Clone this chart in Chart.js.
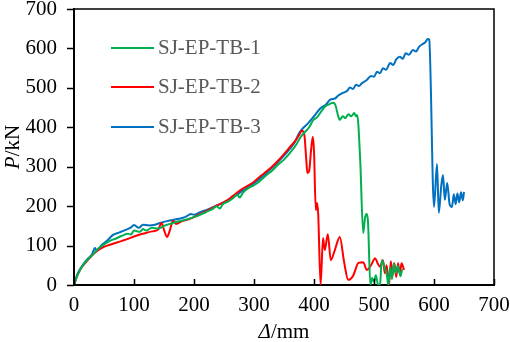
<!DOCTYPE html>
<html>
<head>
<meta charset="utf-8">
<script src="https://cdn.jsdelivr.net/npm/chart.js@4"></script>
<style>
  html, body { margin: 0; padding: 0; background: #fff; }
  canvas { display: block; }
</style>
</head>
<body>
<canvas id="loadChart" width="510" height="342"></canvas>
<script>
// series names
const seriesNames = ['SJ-EP-TB-1', 'SJ-EP-TB-2', 'SJ-EP-TB-3'];
const seriesColors = ['#00B050', '#FF0000', '#0070C0'];

// SJ-EP-TB-1 (green)
const tb1Delta = [0, 5, 10, 20, 30, 40, 50, 60, 70, 80, 90, 95, 100, 110, 115, 120, 130, 140, 150, 160, 170, 180, 190, 200,
  210, 220, 230, 238, 243, 248, 255, 265, 272, 276, 282, 290, 300, 310, 320, 330, 340, 350, 360, 370, 378, 385, 392, 399,
  405, 412, 418, 425, 432, 436, 440, 443, 448, 452, 457, 462, 467, 470, 472, 477, 482, 485, 488, 490, 494, 497, 500, 503,
  507, 510, 513, 518, 521, 524, 527, 530, 533, 536, 540, 544, 547];
const tb1P = [0, 22, 38, 60, 75, 92, 103, 112, 118, 125, 130, 128, 138, 135, 142, 138, 145, 143, 150, 155, 160, 163, 167, 172,
  178, 185, 192, 200, 194, 205, 210, 220, 229, 222, 235, 245, 253, 264, 278, 290, 305, 318, 335, 355, 376, 388, 400, 419,
  425, 440, 452, 458, 462, 455, 430, 419, 428, 423, 433, 428, 436, 428, 431, 317, 132, 170, 180, 160, 0, 18, 8, 25,
  0, 2, 63, 43, 30, 0, 45, 15, 55, 30, 48, 22, 40];

// SJ-EP-TB-2 (red)
const tb2Delta = [0, 5, 10, 20, 30, 40, 50, 60, 70, 80, 90, 100, 110, 120, 130, 140, 146, 150, 155, 160, 165, 170, 180, 190,
  200, 210, 220, 230, 240, 250, 260, 270, 280, 290, 300, 310, 320, 330, 340, 350, 360, 370, 375, 380, 384, 387, 389, 392,
  395, 398, 400, 403, 405, 407, 411, 415, 418, 423, 428, 435, 443, 450, 457, 465, 474, 482, 488, 495, 502, 506, 510, 515,
  518, 521, 525, 528, 531, 534, 537, 540, 543, 546, 550];
const tb2P = [0, 22, 38, 58, 75, 88, 97, 102, 107, 112, 117, 123, 128, 132, 136, 140, 157, 140, 122, 140, 163, 155, 162, 166,
  172, 180, 187, 195, 203, 210, 220, 232, 243, 252, 262, 275, 287, 300, 315, 332, 350, 368, 380, 391, 380, 320, 284, 290,
  340, 376, 340, 190, 208, 180, 0, 119, 89, 129, 63, 90, 122, 60, 13, 23, 56, 58, 38, 50, 68, 55, 46, 63,
  30, 50, 0, 60, 25, 55, 20, 55, 30, 55, 38];

// SJ-EP-TB-3 (blue)
const tb3Delta = [0, 5, 10, 20, 30, 35, 38, 45, 55, 65, 75, 85, 95, 100, 108, 115, 125, 135, 145, 155, 165, 175, 185, 195,
  200, 210, 220, 230, 240, 250, 260, 270, 280, 290, 300, 310, 320, 330, 340, 350, 360, 368, 375, 380, 390, 400, 410, 420,
  427, 435, 440, 448, 455, 460, 465, 470, 475, 480, 488, 495, 500, 505, 510, 515, 520, 527, 532, 537, 543, 548, 553, 558,
  565, 570, 575, 580, 585, 590, 592, 600, 605, 608, 612, 615, 618, 622, 626, 630, 633, 636, 639, 642, 645, 648, 650];
const tb3P = [0, 25, 40, 62, 78, 94, 86, 100, 112, 127, 133, 139, 146, 152, 145, 153, 151, 153, 158, 162, 165, 168, 172, 180,
  178, 185, 190, 196, 203, 210, 218, 227, 238, 248, 258, 270, 283, 297, 312, 328, 346, 362, 385, 395, 410, 428, 447, 458,
  470, 473, 480, 487, 492, 501, 497, 508, 505, 512, 520, 530, 528, 541, 537, 550, 546, 563, 558, 572, 579, 574, 588, 584,
  596, 592, 604, 610, 615, 624, 622, 198, 307, 183, 250, 279, 216, 259, 205, 198, 230, 205, 232, 210, 235, 215, 236];

// axis ticks
const deltaTicks = [0, 100, 200, 300, 400, 500, 600, 700];
const loadTicks = [0, 100, 200, 300, 400, 500, 600, 700];

const serif = "'Liberation Serif', 'Times New Roman', serif";
const fontSize = 21;

function toPoints(xs, ys) {
  return xs.map((x, i) => ({ x: x, y: ys[i] }));
}

// box round the plot, tick marks, legend and mixed-style axis titles
const decorations = {
  id: 'decorations',
  afterDraw(chart) {
    const ctx = chart.ctx;
    const area = chart.chartArea;
    const xs = chart.scales.x;
    const ys = chart.scales.y;
    ctx.save();
    ctx.strokeStyle = '#000';
    ctx.lineWidth = 1.5;
    ctx.beginPath();
    ctx.moveTo(area.left, area.top);
    ctx.lineTo(area.right, area.top);
    ctx.lineTo(area.right, area.bottom);
    ctx.stroke();

    // x ticks point into the plot, y ticks point out
    ctx.beginPath();
    deltaTicks.forEach(v => {
      const px = Math.round(xs.getPixelForValue(v)) + 0.5;
      ctx.moveTo(px, area.bottom);
      ctx.lineTo(px, area.bottom - 6);
    });
    loadTicks.forEach(v => {
      const py = Math.round(ys.getPixelForValue(v)) + 0.5;
      ctx.moveTo(area.left, py);
      ctx.lineTo(area.left - 7, py);
    });
    ctx.stroke();

    // legend
    ctx.font = fontSize + 'px ' + serif;
    ctx.textBaseline = 'middle';
    ctx.textAlign = 'left';
    const rowY = [48, 87, 127];
    seriesNames.forEach((name, i) => {
      ctx.strokeStyle = seriesColors[i];
      ctx.lineWidth = 2;
      ctx.beginPath();
      ctx.moveTo(111, rowY[i]);
      ctx.lineTo(154, rowY[i]);
      ctx.stroke();
      ctx.fillStyle = '#595959';
      ctx.fillText(name, 158, rowY[i]);
    });

    // x title: italic delta + /mm
    ctx.fillStyle = '#000';
    ctx.textBaseline = 'alphabetic';
    const italic = 'italic ' + fontSize + 'px ' + serif;
    const normal = fontSize + 'px ' + serif;
    ctx.font = italic;
    const w1 = ctx.measureText('\u0394').width;
    ctx.font = normal;
    const w2 = ctx.measureText('/mm').width;
    const cx = (area.left + area.right) / 2;
    let x0 = cx - (w1 + w2) / 2;
    ctx.font = italic;
    ctx.fillText('\u0394', x0, 338);
    ctx.font = normal;
    ctx.fillText('/mm', x0 + w1, 338);

    // y title: italic P + /kN, rotated
    ctx.translate(19, (area.top + area.bottom) / 2);
    ctx.rotate(-Math.PI / 2);
    ctx.font = italic;
    const v1 = ctx.measureText('P').width;
    ctx.font = normal;
    const v2 = ctx.measureText('/kN').width;
    x0 = -(v1 + v2) / 2;
    ctx.font = italic;
    ctx.fillText('P', x0, 0);
    ctx.font = normal;
    ctx.fillText('/kN', x0 + v1, 0);
    ctx.restore();
  }
};

function fixX(scale) {
  scale.height = 57;
  scale.paddingLeft = 0;
  scale.paddingRight = 0;
}

function fixY(scale) {
  scale.width = 74;
  scale.paddingTop = 0;
  scale.paddingBottom = 0;
}

const ctx = document.getElementById('loadChart').getContext('2d');
const loadChart = new Chart(ctx, {
  type: 'line',
  data: {
    datasets: [
      { label: seriesNames[0], data: toPoints(tb1Delta, tb1P), borderColor: seriesColors[0] },
      { label: seriesNames[1], data: toPoints(tb2Delta, tb2P), borderColor: seriesColors[1] },
      { label: seriesNames[2], data: toPoints(tb3Delta, tb3P), borderColor: seriesColors[2] }
    ]
  },
  options: {
    responsive: false,
    animation: false,
    layout: { padding: { top: 9, right: 16, left: 0, bottom: 0 } },
    elements: {
      point: { radius: 0 },
      line: { borderWidth: 2, cubicInterpolationMode: 'monotone', fill: false }
    },
    scales: {
      x: {
        type: 'linear',
        min: 0,
        max: 700,
        afterBuildTicks: (scale) => { scale.ticks = deltaTicks.map(v => ({ value: v })); },
        afterFit: fixX,
        border: { color: '#000', width: 2 },
        grid: { drawOnChartArea: false, drawTicks: false },
        ticks: { color: '#000', font: { family: serif, size: fontSize }, padding: 8, maxRotation: 0 }
      },
      y: {
        min: 0,
        max: 700,
        afterBuildTicks: (scale) => { scale.ticks = loadTicks.map(v => ({ value: v })); },
        afterFit: fixY,
        border: { color: '#000', width: 2 },
        grid: { drawOnChartArea: false, drawTicks: false },
        ticks: { color: '#000', font: { family: serif, size: fontSize }, padding: 17 }
      }
    },
    plugins: {
      legend: { display: false },
      tooltip: { enabled: false }
    }
  },
  plugins: [decorations]
});
</script>
</body>
</html>
